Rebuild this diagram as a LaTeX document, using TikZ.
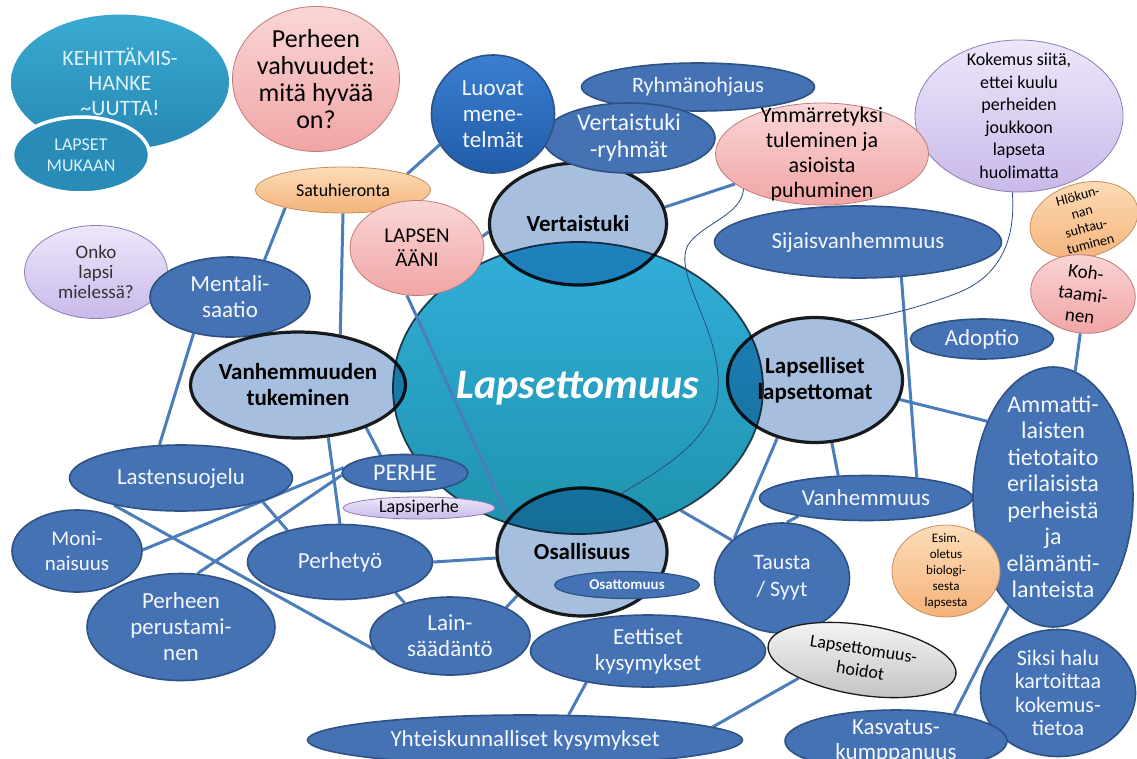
\documentclass[tikz,border=0pt]{standalone}
\usepackage{fontspec}
\setmainfont{Carlito}
\usepackage{xcolor, tikz}
\usetikzlibrary{shapes.geometric}
\pgfdeclarelayer{edges}
\pgfdeclarelayer{hubs}
\pgfdeclarelayer{overhub}
\pgfsetlayers{edges,hubs,overhub,main}
\definecolor{topicblue}{HTML}{4472B4}
\definecolor{topicedge}{HTML}{2E5283}
\definecolor{topictext}{HTML}{F4F7FC}
\definecolor{keyfill}{HTML}{A7BFDF}
\definecolor{keyedge}{HTML}{1E1E1E}
\definecolor{linkblue}{HTML}{4A7DBA}
\definecolor{thinnavy}{HTML}{2B4C7E}
\definecolor{hubtop}{HTML}{31AEDA}
\definecolor{hubbottom}{HTML}{1F93AD}
\definecolor{hubedge}{HTML}{1D3C4C}
\definecolor{pinktop}{HTML}{FAD6D6}
\definecolor{pinkbottom}{HTML}{F1A5A5}
\definecolor{pinkedge}{HTML}{C07A7A}
\definecolor{lilactop}{HTML}{EDE7FA}
\definecolor{lilacbottom}{HTML}{C9B9EA}
\definecolor{lilacedge}{HTML}{8C7DB5}
\definecolor{peachtop}{HTML}{FCDDB8}
\definecolor{peachbottom}{HTML}{F5B27A}
\definecolor{peachedge}{HTML}{C88E5E}
\definecolor{tealtop}{HTML}{3AAAD2}
\definecolor{tealbottom}{HTML}{2788B4}
\definecolor{tealtext}{HTML}{DDF2F8}
\definecolor{luovattop}{HTML}{3A7ED0}
\definecolor{luovatbottom}{HTML}{215CA8}
\definecolor{hoitotop}{HTML}{F7F7F7}
\definecolor{hoitobottom}{HTML}{C5C5C5}
\definecolor{hoitoedge}{HTML}{1A1A1A}
\definecolor{darktext}{HTML}{333333}
\tikzstyle{bubble} = [ellipse, inner sep=-40pt, align=center, font=\fontsize{23}{26}\selectfont]
\tikzstyle{topic} = [bubble, draw=topicedge, line width=1.6pt, fill=topicblue, text=topictext]
\tikzstyle{keytopic} = [bubble, draw=keyedge, line width=3.2pt, fill=keyfill, blend mode=multiply, font=\bfseries\fontsize{23}{26}\selectfont]
\tikzstyle{pinknote} = [bubble, draw=pinkedge, line width=0.8pt, top color=pinktop, bottom color=pinkbottom]
\tikzstyle{lilacnote} = [bubble, draw=lilacedge, line width=0.8pt, top color=lilactop, bottom color=lilacbottom]
\tikzstyle{peachnote} = [bubble, draw=peachedge, line width=0.8pt, top color=peachtop, bottom color=peachbottom]
\tikzset{
  hub/.style={
    bubble,
    draw=hubedge, line width=1.8pt,
    top color=hubtop, bottom color=hubbottom, % darker towards the bottom
    text=white,
    font=\bfseries\itshape\fontsize{42}{46}\selectfont
  }
}
\tikzstyle{link} = [draw=linkblue, line width=3pt]
\tikzstyle{thinlink} = [draw=thinnavy, line width=0.8pt]

\begin{document}
\begin{tikzpicture}[x=1pt, y=-1pt]
  \begin{pgfonlayer}{edges}
    \fill[white] (0,0) rectangle (1137,758);
  \end{pgfonlayer}
  \useasboundingbox (0,0) rectangle (1137,758);

  \begin{pgfonlayer}{hubs}
    \node (hub)[hub, minimum width=370pt, minimum height=292pt] at (578,388) {Lapsettomuus};
  \end{pgfonlayer}

  % top row
  \node (kehit)[bubble, top color=tealtop, bottom color=tealbottom, text=tealtext, minimum width=218pt, minimum height=135pt, font=\fontsize{22}{25}\selectfont] at (120,82) {KEHITTÄMIS-\\HANKE\\\textasciitilde UUTTA!};
  \node (lapset)[bubble, fill=tealbottom!90!tealtop, draw=white, line width=3.5pt, text=tealtext, minimum width=137pt, minimum height=76pt, font=\fontsize{18}{21}\selectfont] at (81,155) {LAPSET\\MUKAAN};
  \node (vahvuudet)[pinknote, minimum width=167pt, minimum height=145pt, font=\fontsize{26}{27}\selectfont] at (316,79) {Perheen\\vahvuudet:\\mitä hyvää\\on?};
  \node (satu)[peachnote, minimum width=175pt, minimum height=46pt, font=\fontsize{18}{20}\selectfont] at (343,190) {Satuhieronta};
  \node (ryhma)[topic, minimum width=233pt, minimum height=48pt, font=\fontsize{22}{25}\selectfont] at (698,87) {Ryhmänohjaus};
  \node (kokemus)[lilacnote, minimum width=208pt, minimum height=152pt, font=\fontsize{18}{22.5}\selectfont] at (1019,116) {Kokemus siitä,\\ettei kuulu\\perheiden\\joukkoon\\lapseta\\huolimatta};
  \node (ymmarr)[pinknote, minimum width=213pt, minimum height=102pt, font=\fontsize{22}{25}\selectfont] at (822,154) {Ymmärretyksi\\tuleminen ja\\asioista\\puhuminen};
  \node (vertaistuki)[keytopic, minimum width=177pt, minimum height=122pt] at (578,224) {Vertaistuki};
  \node (vtryhmat)[topic, minimum width=172pt, minimum height=70pt, font=\fontsize{24}{27}\selectfont] at (629,138) {Vertaistuki\\-ryhmät};
  \node (luovat)[topic, top color=luovattop, bottom color=luovatbottom, minimum width=123pt, minimum height=118pt, font=\fontsize{23}{26}\selectfont] at (493,114) {Luovat\\mene-\\telmät};
  \node (lapsenaani)[pinknote, minimum width=134pt, minimum height=95pt, font=\fontsize{21}{24}\selectfont] at (417,248) {LAPSEN\\ÄÄNI};
  \node (hlokun)[peachnote, rotate=15, minimum width=110pt, minimum height=74pt, font=\fontsize{14}{16.5}\selectfont] at (1084,220) {Hlökun-\\nan\\suhtau-\\tuminen};
  \node (kohtaam)[pinknote, rotate=-8, minimum width=105pt, minimum height=78pt, font=\fontsize{19}{22}\selectfont] at (1083,294) {Koh-\\taami-\\nen};

  % left side
  \node (onko)[lilacnote, text=darktext, minimum width=143pt, minimum height=93pt, font=\fontsize{19}{20}\selectfont] at (96,272) {Onko\\lapsi\\mielessä?};
  \node (mentali)[topic, minimum width=160pt, minimum height=80pt] at (230,297) {Mentali-\\saatio};
  \node (vtuki)[keytopic, minimum width=215pt, minimum height=106pt] at (298,385) {Vanhemmuuden\\tukeminen};

  % right side
  \node (sijais)[topic, minimum width=287pt, minimum height=72pt] at (858,242) {Sijaisvanhemmuus};
  \node (adoptio)[topic, minimum width=143pt, minimum height=40pt] at (982,339) {Adoptio};
  \node (lapselliset)[keytopic, minimum width=175pt, minimum height=125pt] at (815,380) {Lapselliset\\lapsettomat};
  \node (vanhemmuus)[topic, minimum width=213pt, minimum height=45pt] at (866,498) {Vanhemmuus};
  \node (ammatti)[topic, minimum width=160pt, minimum height=260pt, font=\fontsize{24}{26.5}\selectfont] at (1053,497) {Ammatti-\\laisten\\tietotaito\\erilaisista\\perheistä\\ja\\elämänti-\\lanteista};
  \node (esim)[peachnote, minimum width=108pt, minimum height=92pt, font=\fontsize{13}{16}\selectfont] at (946,571) {Esim.\\oletus\\biologi-\\sesta\\lapsesta};
  \node (siksi)[topic, minimum width=155pt, minimum height=127pt, font=\fontsize{22}{23.5}\selectfont] at (1058,693) {Siksi halu\\kartoittaa\\kokemus-\\tietoa};
  \node (tausta)[topic, minimum width=135pt, minimum height=110pt, font=\fontsize{22}{27}\selectfont] at (782,578) {Tausta\\/ Syyt};

  % bottom row
  \node (eettiset)[topic, minimum width=235pt, minimum height=72pt] at (648,651) {Eettiset\\kysymykset};
  \node (hoidot)[bubble, rotate=-9, draw=hoitoedge, line width=1.3pt, top color=hoitotop, bottom color=hoitobottom, minimum width=190pt, minimum height=70pt, font=\fontsize{18}{22}\selectfont] at (862,660) {Lapsettomuus-\\hoidot};
  \node (kasvatus)[topic, minimum width=222pt, minimum height=62pt, font=\fontsize{23}{25}\selectfont] at (896,741) {Kasvatus-\\kumppanuus};
  \node (yhteis)[topic, minimum width=435pt, minimum height=50pt] at (525,740) {Yhteiskunnalliset kysymykset};
  \node (lain)[topic, minimum width=160pt, minimum height=78pt] at (450,636) {Lain-\\säädäntö};
  \node (osallisuus)[keytopic, minimum width=170pt, minimum height=128pt] at (582,552) {Osallisuus};
  \node (osattomuus)[topic, line width=1.2pt, minimum width=145pt, minimum height=27pt, font=\bfseries\fontsize{15}{17}\selectfont] at (627,585) {Osattomuus};
  \node (perhetyo)[topic, minimum width=185pt, minimum height=75pt] at (340,562) {Perhetyö};
  \node (perhe)[topic, minimum width=126pt, minimum height=37pt, font=\fontsize{24}{26}\selectfont] at (405,473) {PERHE};
  \node (lapsiperhe)[lilacnote, minimum width=152pt, minimum height=22pt, font=\fontsize{18}{20}\selectfont] at (419,508) {Lapsiperhe};
  \node (lastens)[topic, minimum width=223pt, minimum height=66pt] at (181,478) {Lastensuojelu};
  \node (moni)[topic, minimum width=130pt, minimum height=82pt, font=\fontsize{21}{25}\selectfont] at (77,551) {Moni-\\naisuus};
  \node (perustam)[topic, minimum width=188pt, minimum height=107pt] at (181,627) {Perheen\\perustami-\\nen};

  \begin{pgfonlayer}{edges}
    \draw[link] (satu.14) -- (luovat.210);
    \draw[link] (satu.197) -- (mentali.47);
    \draw[link] (satu.270) -- (vtuki.50);
    \draw[link] (mentali.225) -- (lastens.123);
    \draw[link] (vertaistuki.185) -- (lapsenaani.10);
    \draw[link] (vertaistuki.11) -- (ymmarr.199);
    \draw[link] (sijais.321) -- (vanhemmuus.22);
    \draw[link] (lapselliset.347) -- (ammatti.131);
    \draw[link] (kohtaam.274) -- (ammatti.80);
    \draw[link] (lapselliset.285) -- (vanhemmuus.141);
    \draw[link] (lapselliset.237) -- (tausta.140);
    \draw[link] (hub.310) -- (tausta.143);
    \draw[link] (vanhemmuus.195) -- (tausta.85);
    \draw[link] (ammatti.248) -- (kasvatus.25);
    \draw[link] (hoidot.205) -- (yhteis.4);
    \draw[link] (eettiset.207) -- (yhteis.30);
    \draw[link] (osallisuus.214) -- (lain.27);
    \draw[link] (osallisuus.184) -- (perhetyo.0);
    \draw[link] (perhetyo.331) -- (lain.144);
    \draw[link] (lastens.202) -- (lain.190);
    \draw[link] (lastens.344) -- (perhetyo.149);
    \draw[link] (moni.1) -- (perhe.175);
    \draw[link] (perustam.73) -- (perhe.182);
    \draw[link] (vtuki.300) -- (perhetyo.90);
    \draw[link] (vtuki.328) -- (perhe.144);
  \end{pgfonlayer}

  \begin{pgfonlayer}{overhub}
    \draw[link] (lapsenaani.258) -- (osallisuus.155);
    \draw[thinlink] (ymmarr.204) .. controls (742,215) and (700,225) .. (688,245)
      .. controls (672,275) and (722,330) .. (718,390)
      .. controls (715,440) and (660,470) .. (osallisuus.56);
    \draw[thinlink] (kokemus.265) .. controls (1016,240) and (1000,275) .. (960,292)
      .. controls (920,308) and (870,320) .. (lapselliset.61);
  \end{pgfonlayer}
\end{tikzpicture}
\end{document}
